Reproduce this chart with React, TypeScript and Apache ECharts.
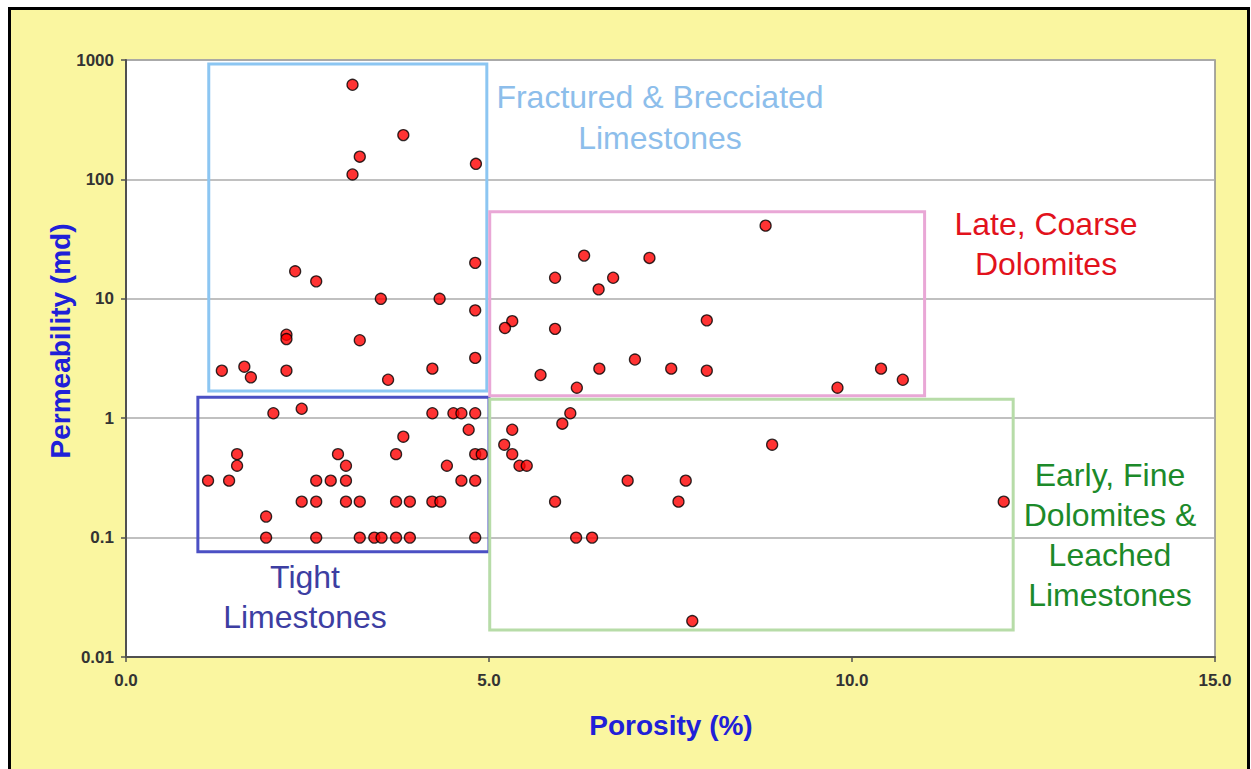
import React, { useEffect, useRef } from 'react';
import * as echarts from 'echarts';

// Porosity (%) of each sample
const porosity = [
  3.12, 3.82, 3.22, 3.12, 4.82, 2.33, 2.62, 4.81, 3.51, 4.32, 4.81, 2.21, 2.21, 3.22, 4.81, 1.32, 1.63, 1.72, 2.21, 4.22, 3.61,
  2.03, 2.42, 4.22, 4.51, 4.62, 4.81, 4.72, 3.82, 1.53, 1.53, 2.92, 3.03, 3.72, 4.81, 4.90, 4.42, 1.13, 1.42, 2.62, 2.82,
  3.03, 4.62, 4.81, 2.42, 2.62, 3.03, 3.22, 3.72, 3.91, 4.22, 4.33, 1.93, 1.93, 2.62, 3.22, 3.42, 3.52, 3.72, 3.91, 4.81,
  8.81, 6.31, 7.21, 5.91, 6.71, 6.51, 5.32, 5.22, 5.91, 8.00, 5.71, 6.21, 6.52, 7.01, 7.51, 8.00, 9.80, 10.40, 10.70,
  6.12, 6.01, 5.32, 5.21, 5.32, 5.42, 5.52, 6.91, 7.71, 5.91, 7.61, 8.90, 6.20, 6.42, 7.80, 12.09,
];

// Permeability (md) of each sample
const permeability = [
  620, 235, 155, 110, 135, 17, 14, 20, 10, 10, 8, 5, 4.6, 4.5, 3.2, 2.5, 2.7, 2.2, 2.5, 2.6, 2.1,
  1.1, 1.2, 1.1, 1.1, 1.1, 1.1, 0.8, 0.7, 0.5, 0.4, 0.5, 0.4, 0.5, 0.5, 0.5, 0.4, 0.3, 0.3, 0.3, 0.3,
  0.3, 0.3, 0.3, 0.2, 0.2, 0.2, 0.2, 0.2, 0.2, 0.2, 0.2, 0.15, 0.1, 0.1, 0.1, 0.1, 0.1, 0.1, 0.1, 0.1,
  41, 23, 22, 15, 15, 12, 6.5, 5.7, 5.6, 6.6, 2.3, 1.8, 2.6, 3.1, 2.6, 2.5, 1.8, 2.6, 2.1,
  1.1, 0.9, 0.8, 0.6, 0.5, 0.4, 0.4, 0.3, 0.3, 0.2, 0.2, 0.6, 0.1, 0.1, 0.02, 0.2,
];

const xTickLabels = ['0.0', '5.0', '10.0', '15.0'];
const yTickLabels = ['0.01', '0.1', '1', '10', '100', '1000'];

// Rock-type zones (data extents)
const zoneNames = [
  'Fractured & Brecciated Limestones',
  'Tight Limestones',
  'Late, Coarse Dolomites',
  'Early, Fine Dolomites & Leached Limestones',
];
const zoneXMin = [1.14, 0.99, 5.01, 5.01];
const zoneXMax = [4.97, 5.0, 11.0, 12.22];
const zoneYMin = [1.69, 0.076, 1.54, 0.0168];
const zoneYMax = [927, 1.5, 53.7, 1.44];

const zoneBoxColors = ['#8cc6f2', '#4b50c4', '#e9a7d6', '#b7dca8'];

const FONT = 'Arial, "Liberation Sans", sans-serif';
const PANEL = '#faf6a0';

export default function App() {
  const ref = useRef<HTMLDivElement>(null);

  useEffect(() => {
    if (!ref.current) return;
    document.documentElement.style.background = PANEL;
    document.body.style.overflow = 'hidden';
    const chart = echarts.init(ref.current, undefined, { renderer: 'svg' });

    const points = porosity.map((p, i) => [p, permeability[i]]);

    const areas = zoneNames.map((name, i) => [
      {
        name,
        xAxis: zoneXMin[i],
        yAxis: zoneYMax[i],
        itemStyle: { color: 'rgba(0,0,0,0)', borderColor: zoneBoxColors[i], borderWidth: 3 },
        label: { show: false },
      },
      { xAxis: zoneXMax[i], yAxis: zoneYMin[i] },
    ]);

    const option: any = {
      animation: false,
      grid: {
        left: 126,
        right: 36,
        top: 60,
        bottom: 112,
        show: true,
        backgroundColor: '#ffffff',
        borderColor: '#8c8c8c',
        borderWidth: 1.5,
      },
      xAxis: {
        type: 'value',
        min: 0,
        max: 15,
        interval: 5,
        axisLine: { show: true, onZero: false, lineStyle: { color: '#505050', width: 2 } },
        axisTick: { show: true, length: 5, lineStyle: { color: '#505050', width: 1.5 } },
        splitLine: { show: false },
        axisLabel: {
          margin: 15,
          fontSize: 17,
          fontWeight: 'bold',
          color: '#333333',
          fontFamily: FONT,
          formatter: (v: number) => xTickLabels[Math.round(v / 5)],
        },
      },
      yAxis: {
        type: 'log',
        logBase: 10,
        min: 0.01,
        max: 1000,
        splitNumber: 5,
        axisLine: { show: true, lineStyle: { color: '#505050', width: 2 } },
        axisTick: { show: true, length: 5, lineStyle: { color: '#505050', width: 1.5 } },
        minorTick: { show: false },
        splitLine: { show: true, lineStyle: { color: '#ababab', width: 1.5 } },
        axisLabel: {
          margin: 12,
          fontSize: 17,
          fontWeight: 'bold',
          color: '#333333',
          fontFamily: FONT,
          formatter: (v: number) => yTickLabels[Math.round(Math.log10(v)) + 2],
        },
      },
      series: [
        {
          type: 'scatter',
          name: 'zones',
          data: [],
          z: 1,
          silent: true,
          markArea: { silent: true, data: areas },
        },
        {
          type: 'scatter',
          name: 'Samples',
          data: points,
          z: 5,
          symbol: 'circle',
          symbolSize: 11,
          itemStyle: { color: '#ff0000', borderColor: '#000000', borderWidth: 1.3 },
        },
      ],
      graphic: [
        {
          type: 'text',
          x: 660,
          y: 117,
          z: 10,
          style: {
            text: 'Fractured & Brecciated\nLimestones',
            align: 'center',
            verticalAlign: 'middle',
            fontSize: 32,
            lineHeight: 41,
            fontFamily: FONT,
            fill: '#8dbeeb',
          },
        },
        {
          type: 'text',
          x: 1046,
          y: 244,
          z: 10,
          style: {
            text: 'Late, Coarse\nDolomites',
            align: 'center',
            verticalAlign: 'middle',
            fontSize: 32,
            lineHeight: 40,
            fontFamily: FONT,
            fill: '#e2121c',
          },
        },
        {
          type: 'text',
          x: 1110,
          y: 535,
          z: 10,
          style: {
            text: 'Early, Fine\nDolomites &\nLeached\nLimestones',
            align: 'center',
            verticalAlign: 'middle',
            fontSize: 32,
            lineHeight: 40,
            fontFamily: FONT,
            fill: '#1c8a2a',
          },
        },
        {
          type: 'text',
          x: 305,
          y: 597,
          z: 10,
          style: {
            text: 'Tight\nLimestones',
            align: 'center',
            verticalAlign: 'middle',
            fontSize: 32,
            lineHeight: 40,
            fontFamily: FONT,
            fill: '#3d3ea2',
          },
        },
        {
          type: 'text',
          x: 671,
          y: 725,
          z: 10,
          style: {
            text: 'Porosity (%)',
            align: 'center',
            verticalAlign: 'middle',
            fontSize: 28,
            fontWeight: 'bold',
            fontFamily: FONT,
            fill: '#2020d8',
          },
        },
        {
          type: 'text',
          x: 60,
          y: 341,
          rotation: Math.PI / 2,
          z: 10,
          style: {
            text: 'Permeability (md)',
            align: 'center',
            verticalAlign: 'middle',
            fontSize: 28,
            fontWeight: 'bold',
            fontFamily: FONT,
            fill: '#2020d8',
          },
        },
      ],
    };

    chart.setOption(option);
    return () => chart.dispose();
  }, []);

  return (
    <div style={{ position: 'fixed', left: 0, top: 0, width: 1251, height: 769, overflow: 'hidden', background: '#ffffff' }}>
      <div
        style={{
          position: 'absolute',
          left: 8,
          top: 7,
          width: 1242,
          height: 780,
          boxSizing: 'border-box',
          borderLeft: '3px solid #000000',
          borderTop: '3px solid #000000',
          borderRight: '3px solid #000000',
          borderBottom: 'none',
          background: PANEL,
        }}
      />
      <div ref={ref} style={{ position: 'absolute', left: 0, top: 0, width: 1251, height: 769 }} />
    </div>
  );
}
